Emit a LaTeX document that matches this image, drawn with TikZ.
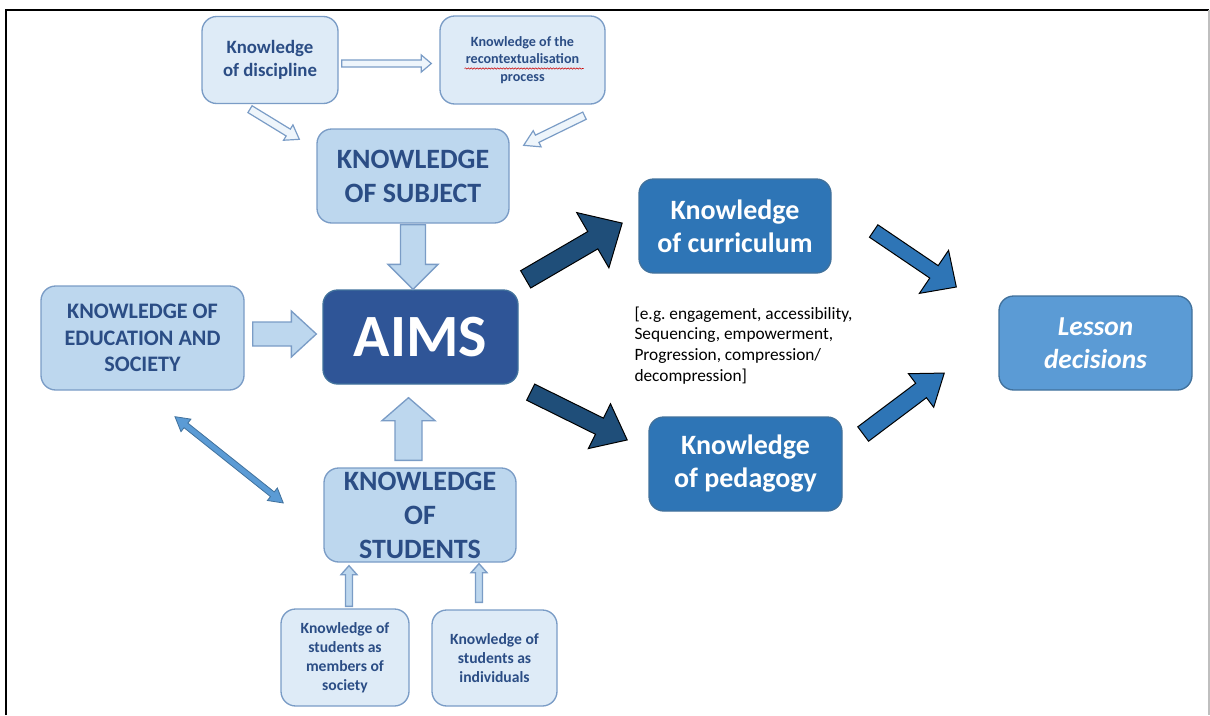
\documentclass[tikz,border=0pt]{standalone}
\usepackage{fontspec}
\setmainfont{Carlito}
\usetikzlibrary{calc,decorations.pathmorphing}
\frenchspacing

\definecolor{paleblue}{HTML}{DEEBF7}
\definecolor{lightblue}{HTML}{BDD7EE}
\definecolor{edgeblue}{HTML}{7A9CC6}
\definecolor{inkblue}{HTML}{2B4D85}
\definecolor{aimsblue}{HTML}{2F5597}
\definecolor{midblue}{HTML}{2E75B6}
\definecolor{skyblue}{HTML}{5B9BD5}
\definecolor{navyblue}{HTML}{1F4E79}
\definecolor{rimblue}{HTML}{41719C}

\tikzset{every picture/.style={line width=0.75pt}}
\tikzset{
  box/.style={rounded corners=11pt, line width=1pt, align=center, inner sep=0pt},
  palebox/.style={box, draw=edgeblue, fill=paleblue, text=inkblue},
  lightbox/.style={box, draw=edgeblue, fill=lightblue, text=inkblue},
  darkbox/.style={box, draw=rimblue, text=white},
  hollowarrow/.style={draw=edgeblue, fill=paleblue!50!white, line width=0.9pt},
  lightarrow/.style={draw=edgeblue, fill=lightblue, line width=1pt},
  darkarrow/.style={fill=navyblue},
  brightarrow/.style={fill=midblue},
  linkarrow/.style={draw=rimblue, fill=skyblue, line width=0.6pt}
}

% block arrow: tail, tip (calc expressions), shaft half width, head half width, head length (px)
\newcommand{\blockarrow}[6][]{%
  \draw[#1] let \p1=($#2$), \p2=($#3$), \n1={atan2(\y2-\y1,\x2-\x1)}, \n2={veclen(\x2-\x1,\y2-\y1)} in
    [shift={(\p1)}, rotate=\n1]
    (0pt,{#4*0.75pt}) -- ({\n2-#6*0.75pt},{#4*0.75pt}) -- ({\n2-#6*0.75pt},{#5*0.75pt})
    -- ({\n2*1pt},0pt) -- ({\n2-#6*0.75pt},{-#5*0.75pt}) -- ({\n2-#6*0.75pt},{-#4*0.75pt})
    -- (0pt,{-#4*0.75pt}) -- cycle;}
% same with a head at both ends
\newcommand{\twowayarrow}[6][]{%
  \draw[#1] let \p1=($#2$), \p2=($#3$), \n1={atan2(\y2-\y1,\x2-\x1)}, \n2={veclen(\x2-\x1,\y2-\y1)} in
    [shift={(\p1)}, rotate=\n1]
    (0pt,0pt) -- ({#6*0.75pt},{#5*0.75pt}) -- ({#6*0.75pt},{#4*0.75pt})
    -- ({\n2-#6*0.75pt},{#4*0.75pt}) -- ({\n2-#6*0.75pt},{#5*0.75pt}) -- ({\n2*1pt},0pt)
    -- ({\n2-#6*0.75pt},{-#5*0.75pt}) -- ({\n2-#6*0.75pt},{-#4*0.75pt})
    -- ({#6*0.75pt},{-#4*0.75pt}) -- ({#6*0.75pt},{-#5*0.75pt}) -- cycle;}

\begin{document}
\begin{tikzpicture}[x=0.75pt,y=-0.75pt]
\useasboundingbox (0,0) rectangle (1210,715);

%Frame
\draw [line width=1.5pt] (6,715) -- (6,9.5) -- (1209,9.5) ;
\draw [color=black!25, line width=1pt] (1209,10) -- (1209,715) ;

%Shape: Rounded Rect -- top row
\node [palebox, minimum width=102pt, minimum height=65.25pt, font=\bfseries\fontsize{14.1pt}{17.2pt}\selectfont] (disc) at (270,60) {Knowledge\\of discipline};
\node [palebox, minimum width=123.75pt, minimum height=66pt, font=\bfseries\fontsize{10.6pt}{13pt}\selectfont] (recon) at (522.5,60) {Knowledge of the\\recontextualisation\\process};
%spell-check squiggle
\draw [color=red!80!black, line width=0.4pt, decorate, decoration={snake, amplitude=0.5pt, segment length=2.2pt}] ($(recon.center)+(-58,8.5)$) -- ($(recon.center)+(61,8.5)$) ;

%Shape: Rounded Rect -- middle column
\node [lightbox, minimum width=144pt, minimum height=70.5pt, font=\bfseries\fontsize{21pt}{25.5pt}\selectfont] (subject) at (413,176) {KNOWLEDGE\\OF SUBJECT};
\node [darkbox, fill=aimsblue, minimum width=146.25pt, minimum height=70.5pt, font=\bfseries\fontsize{45pt}{50pt}\selectfont] (aims) at (420.5,337) {AIMS};
\node [lightbox, minimum width=152.25pt, minimum height=78pt, font=\bfseries\fontsize{16.6pt}{20pt}\selectfont] (edu) at (142.5,338) {KNOWLEDGE OF\\EDUCATION AND\\SOCIETY};
\node [lightbox, minimum width=144pt, minimum height=70.5pt, font=\bfseries\fontsize{21pt}{25.5pt}\selectfont] (students) at (420,515) {KNOWLEDGE\\OF\\STUDENTS};
\node [palebox, minimum width=96pt, minimum height=72.75pt, font=\bfseries\fontsize{11.7pt}{14.2pt}\selectfont] (society) at (345,657.5) {Knowledge of\\students as\\members of\\society};
\node [palebox, minimum width=93.75pt, minimum height=72pt, font=\bfseries\fontsize{11.7pt}{14.2pt}\selectfont] (indiv) at (494.5,658) {Knowledge of\\students as\\individuals};

%Shape: Rounded Rect -- right side
\node [darkbox, fill=midblue, minimum width=144pt, minimum height=70.5pt, font=\bfseries\fontsize{21pt}{24.75pt}\selectfont] (curric) at (735,226) {Knowledge\\of curriculum};
\node [darkbox, fill=midblue, minimum width=144.75pt, minimum height=70.5pt, font=\bfseries\fontsize{21pt}{24.75pt}\selectfont] (pedag) at (745.5,464) {Knowledge\\of pedagogy};
\node [darkbox, fill=skyblue, minimum width=144.75pt, minimum height=70.5pt, font=\bfseries\itshape\fontsize{20.5pt}{25pt}\selectfont] (lesson) at (1095.5,343) {Lesson\\decisions};

% Text Node
\node [anchor=north west, inner sep=0pt, align=left, font=\fontsize{13pt}{15.5pt}\selectfont] (examples) at (634,306) {[e.g. engagement, accessibility,\\Sequencing, empowerment,\\Progression, compression/\\decompression]};

%Block Arrows -- into the subject
\blockarrow[hollowarrow]{(disc.east)+(3,3.5)}{(recon.west)+(-8,3.5)}{3.5}{8.5}{10}
\blockarrow[hollowarrow]{(disc.south)+(-20,5)}{(subject.north west)+(-17,11)}{4}{9}{13}
\blockarrow[hollowarrow]{(recon.south)+(62,11)}{(subject.north east)+(14,17)}{4}{9}{15}

%Block Arrows -- into the aims
\blockarrow[lightarrow]{(subject.south)+(0,1)}{(aims.north)+(-7.5,0)}{12.5}{25}{25}
\blockarrow[lightarrow]{(edu.east)+(8,-4)}{(aims.west)+(-6,-3)}{12}{23}{25}
\blockarrow[lightarrow]{(students.north)+(-11.5,-7)}{(aims.south)+(-12,13)}{13.5}{26.5}{23}

%Block Arrows -- into the students
\blockarrow[lightarrow]{(society.north)+(4,-2)}{(students.south)+(-71,3)}{3.5}{8}{9}
\blockarrow[lightarrow]{(indiv.north)+(-15.5,-7)}{(students.south)+(59,1)}{3.5}{8}{9}
\twowayarrow[linkarrow]{(edu.south)+(32.5,26)}{(students.west)+(-40,-12)}{3}{8}{14}

%Block Arrows -- out to the right
\blockarrow[darkarrow]{(aims.north east)+(7,-10)}{(curric.west)+(-16,-3)}{10}{32}{34}
\blockarrow[darkarrow]{(aims.south east)+(12,7.5)}{(pedag.west)+(-21,-24)}{9}{25}{31}
\blockarrow[brightarrow]{(curric.east)+(42,5)}{(lesson.west)+(-42,-56)}{7.5}{26}{27}
\blockarrow[brightarrow]{(pedag.east)+(20.5,-30)}{(lesson.west)+(-54,30)}{9}{21}{29}

\end{tikzpicture}
\end{document}
